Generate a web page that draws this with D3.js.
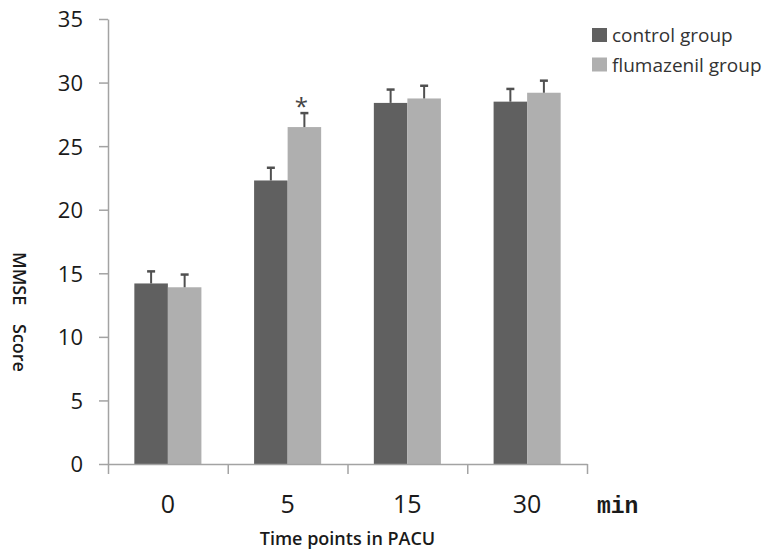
<!DOCTYPE html>
<html>
<head>
<meta charset="utf-8" />
<script src="https://d3js.org/d3.v7.min.js"></script>
<style>
  body { margin: 0; background: #fff; }
  text { font-family: "Open Sans", "Noto Sans", sans-serif; }
</style>
</head>
<body>
<div id="chart"></div>
<script>
// data
var timePoints = ["0", "5", "15", "30"];
var groups = ["control group", "flumazenil group"];
var controlMean = [14.2, 22.3, 28.4, 28.5];
var controlSd = [0.95, 1.0, 1.05, 1.0];
var flumaMean = [13.9, 26.5, 28.75, 29.2];
var flumaSd = [1.0, 1.1, 1.0, 0.95];
var yTicks = [0, 5, 10, 15, 20, 25, 30, 35];
var starAt = ["5"]; // significant difference marker, flumazenil group

var colors = ["#606060", "#afafaf"];
var axisColor = "#a3a3a3";

var width = 775, height = 554;
var plotLeft = 108, plotRight = 587, plotTop = 19, plotBottom = 464;

var svg = d3.select("#chart").append("svg")
  .attr("width", width)
  .attr("height", height);

var rows = [];
timePoints.forEach(function (t, i) {
  rows.push({ t: t, g: groups[0], mean: controlMean[i], sd: controlSd[i] });
  rows.push({ t: t, g: groups[1], mean: flumaMean[i], sd: flumaSd[i] });
});

var y = d3.scaleLinear().domain([0, 35]).range([plotBottom, plotTop]);

var x0 = d3.scaleBand()
  .domain(timePoints)
  .range([plotLeft, plotRight])
  .paddingInner(0.44)
  .paddingOuter(0.22);

var x1 = d3.scaleBand()
  .domain(groups)
  .range([0, x0.bandwidth()]);

var color = d3.scaleOrdinal().domain(groups).range(colors);

// bars
svg.selectAll("rect.bar")
  .data(rows).enter()
  .append("rect")
  .attr("class", "bar")
  .attr("x", function (d) { return x0(d.t) + x1(d.g); })
  .attr("y", function (d) { return y(d.mean); })
  .attr("width", x1.bandwidth())
  .attr("height", function (d) { return y(0) - y(d.mean); })
  .attr("fill", function (d) { return color(d.g); });

// error bars (upper half only)
var err = svg.selectAll("g.err")
  .data(rows).enter()
  .append("g")
  .attr("class", "err")
  .attr("transform", function (d) { return "translate(" + (x0(d.t) + x1(d.g) + x1.bandwidth() / 2) + ",0)"; });

err.append("line")
  .attr("y1", function (d) { return y(d.mean); })
  .attr("y2", function (d) { return y(d.mean + d.sd); })
  .attr("stroke", "#505050")
  .attr("stroke-width", 2);

err.append("line")
  .attr("x1", -4).attr("x2", 4)
  .attr("y1", function (d) { return y(d.mean + d.sd); })
  .attr("y2", function (d) { return y(d.mean + d.sd); })
  .attr("stroke", "#505050")
  .attr("stroke-width", 2.5);

// star
svg.selectAll("text.star")
  .data(rows.filter(function (d) { return d.g == groups[1] && starAt.indexOf(d.t) >= 0; }))
  .enter().append("text")
  .attr("class", "star")
  .attr("x", function (d) { return x0(d.t) + x1(d.g) + x1.bandwidth() / 2 - 3; })
  .attr("y", function (d) { return y(d.mean + d.sd) + 2; })
  .attr("text-anchor", "middle")
  .style("font-size", "24px")
  .style("fill", "#444")
  .text("*");

// y axis
var yAxis = svg.append("g")
  .attr("transform", "translate(" + plotLeft + ",0)")
  .call(d3.axisLeft(y).tickValues(yTicks).tickSize(9).tickSizeOuter(0).tickPadding(16));

yAxis.selectAll("path, line").attr("stroke", axisColor).attr("stroke-width", 1.5);
yAxis.selectAll("text")
  .style("font-size", "22px")
  .style("fill", "#1a1a1a")
  .attr("dy", "0.36em");

// x axis: ticks sit between the groups
var xb = d3.scaleLinear().domain([0, timePoints.length]).range([plotLeft, plotRight]);
var xAxis = svg.append("g")
  .attr("transform", "translate(0," + plotBottom + ")")
  .call(d3.axisBottom(xb).tickValues(d3.range(timePoints.length + 1)).tickSize(10).tickSizeOuter(0).tickFormat(""));
xAxis.selectAll("path, line").attr("stroke", axisColor).attr("stroke-width", 1.5);

svg.selectAll("text.xlab")
  .data(timePoints).enter()
  .append("text")
  .attr("class", "xlab")
  .attr("x", function (d) { return x0(d) + x0.bandwidth() / 2; })
  .attr("y", 513)
  .attr("text-anchor", "middle")
  .style("font-size", "25px")
  .style("fill", "#1a1a1a")
  .text(function (d) { return d; });

svg.append("text")
  .attr("x", 597)
  .attr("y", 513)
  .style("font-family", "'Liberation Mono', 'DejaVu Sans Mono', monospace")
  .style("font-size", "23px")
  .style("font-weight", "bold")
  .style("fill", "#1a1a1a")
  .text("min");

// axis titles
svg.append("text")
  .attr("x", (plotLeft + plotRight) / 2)
  .attr("y", 545)
  .attr("text-anchor", "middle")
  .style("font-size", "18px")
  .style("font-weight", "600")
  .style("fill", "#1a1a1a")
  .text("Time points in PACU");

svg.append("text")
  .attr("transform", "translate(13,312) rotate(90)")
  .attr("text-anchor", "middle")
  .style("font-size", "18px")
  .style("font-weight", "600")
  .style("white-space", "pre")
  .style("fill", "#1a1a1a")
  .text("MMSE    Score");

// legend
var legend = svg.selectAll("g.legend")
  .data(groups).enter()
  .append("g")
  .attr("class", "legend")
  .attr("transform", function (d, i) { return "translate(592," + (28 + i * 29.5) + ")"; });

legend.append("rect")
  .attr("width", 15)
  .attr("height", 14)
  .attr("fill", function (d) { return color(d); });

legend.append("text")
  .attr("x", 20)
  .attr("y", 14)
  .style("font-size", "19px")
  .style("fill", "#333")
  .text(function (d) { return d; });
</script>
</body>
</html>
